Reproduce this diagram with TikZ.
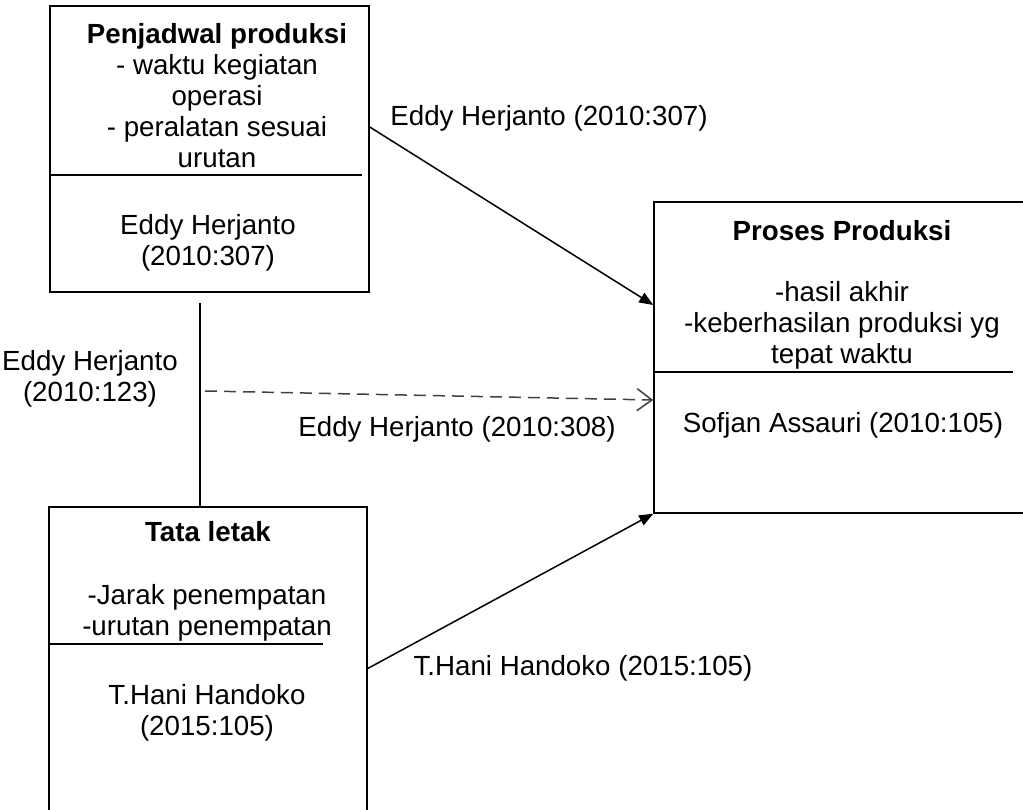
\documentclass[tikz,border=0pt]{standalone}
\usepackage{fontspec}
\setmainfont{Liberation Sans}
\usetikzlibrary{arrows.meta,positioning}

\begin{document}
\begin{tikzpicture}[
  x=1pt, y=-1pt,
  font={\fontsize{27.7}{31}\selectfont},
  block/.style={rectangle, draw, line width=1.5pt, inner sep=0pt},
  txt/.style={align=center, inner sep=0pt},
  divider/.style={draw, line width=1.5pt},
  line/.style={draw, line width=1.5pt, -{Triangle[length=14pt,width=11pt]}},
  dashline/.style={draw, black!75, line width=1.5pt, dash pattern=on 12pt off 7pt, -{Straight Barb[length=15pt,width=22pt]}}
]

\useasboundingbox (0,0) rectangle (1023,810);
\clip (0,0) rectangle (1023,810);

% boxes
\node[block, minimum width=319pt, minimum height=286pt] (pj) at (209.5,149) {};
\node[block, minimum width=318pt, minimum height=323pt] (tl) at (208,668.5) {};
\node[block, minimum width=386pt, minimum height=311pt] (pp) at (847,357.5) {};

\draw[divider] (50,175) -- (362,175);
\draw[divider] (49,644) -- (323,644);
\draw[divider] (654,372) -- (1013,372);

% box texts
\node[txt] (pjItems) at (217,96) {\textbf{Penjadwal produksi}\\- waktu kegiatan\\operasi\\- peralatan sesuai\\urutan};
\node[txt] (pjRef) at (208,243) {Eddy Herjanto\\(2010:307)};

\node[txt] (tlTitle) at (208,532) {\textbf{Tata letak}};
\node[txt] (tlItems) at (207,612.5) {-Jarak penempatan\\-urutan penempatan};
\node[txt] (tlRef) at (207,712.5) {T.Hani Handoko\\(2015:105)};

\node[txt] (ppTitle) at (842,231) {\textbf{Proses Produksi}};
\node[txt] (ppItems) at (842,325.5) {-hasil akhir\\-keberhasilan produksi yg\\tepat waktu};
\node[txt] (ppRef) at (843,425) {Sofjan Assauri (2010:105)};

% connector labels
\node[txt] (l307) at (549,118) {Eddy Herjanto (2010:307)};
\node[txt] (l123) at (90,379) {Eddy Herjanto\\(2010:123)};
\node[txt] (l308) at (457,429) {Eddy Herjanto (2010:308)};
\node[txt] (l105) at (583,668) {T.Hani Handoko (2015:105)};

% connectors
\coordinate (vtop) at (200,303);
\coordinate (dsrc) at (205,391);
\path[divider] (vtop) -- (vtop |- tl.north);
\path[line] ([yshift=22pt]pj.east) -- ([yshift=52.5pt]pp.west);
\path[line] (tl.east) -- (pp.south west);
\path[dashline] (dsrc) -- ([yshift=-42.5pt]pp.west);

\end{tikzpicture}
\end{document}
